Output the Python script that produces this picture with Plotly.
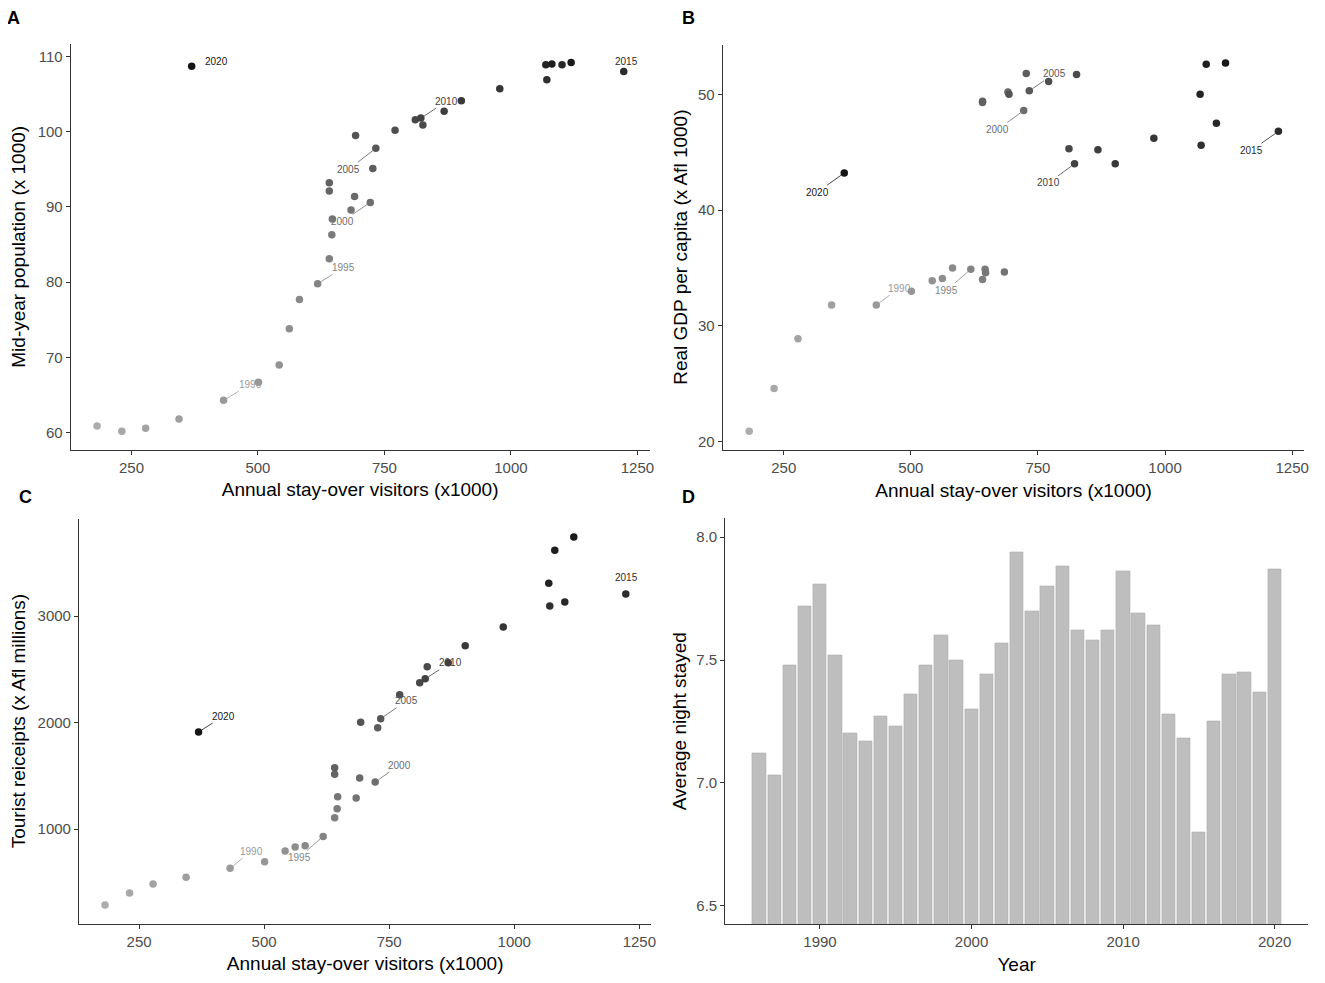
import plotly.graph_objects as go

# ---------------- data ----------------
years = list(range(1986, 2021))
visitors = [182, 231, 278, 344, 432, 501, 542, 562, 582, 618,
            641, 646, 647, 684, 722, 691, 641, 641, 727, 733,
            693, 771, 826, 811, 822, 868, 902, 978, 1071, 1223,
            1101, 1069, 1081, 1119, 369]
population = [60.9, 60.2, 60.6, 61.8, 64.3, 66.7, 69.0, 73.8, 77.7, 79.8,
              83.1, 86.3, 88.4, 89.6, 90.6, 91.4, 92.1, 93.2, 95.1, 97.8,
              99.5, 100.2, 100.9, 101.6, 101.8, 102.7, 104.1, 105.7, 106.9, 108.0,
              108.9, 108.9, 109.0, 109.2, 108.7]
gdp = [20.9, 24.6, 28.9, 31.8, 31.8, 33.0, 33.9, 34.1, 35.0, 34.9,
       34.0, 34.9, 34.6, 34.65, 48.6, 50.2, 49.3, 49.4, 51.8, 50.3,
       50.0, 51.1, 51.7, 45.3, 44.0, 45.2, 44.0, 46.2, 45.6, 46.8,
       47.5, 50.0, 52.6, 52.7, 43.2]
receipts = [286, 399, 484, 547, 631, 693, 793, 831, 843, 931,
            1106, 1191, 1303, 1291, 1441, 1479, 1514, 1576, 1951, 2036,
            2002, 2261, 2524, 2374, 2411, 2561, 2721, 2897, 3094, 3207,
            3131, 3307, 3617, 3742, 1911]
nights = [7.12, 7.03, 7.48, 7.72, 7.81, 7.52, 7.20, 7.17, 7.27, 7.23,
          7.36, 7.48, 7.60, 7.50, 7.30, 7.44, 7.57, 7.94, 7.70, 7.80,
          7.88, 7.62, 7.58, 7.62, 7.86, 7.69, 7.64, 7.28, 7.18, 6.80,
          7.25, 7.44, 7.45, 7.37, 7.87]
label_years = [1990, 1995, 2000, 2005, 2010, 2015, 2020]

x_ticks = [250, 500, 750, 1000, 1250]
pop_ticks = [60, 70, 80, 90, 100, 110]
gdp_ticks = [20, 30, 40, 50]
rec_ticks = [1000, 2000, 3000]
night_ticks = [6.5, 7.0, 7.5, 8.0]
year_ticks = [1990, 2000, 2010, 2020]

# ---------------- styling ----------------
OFF = 8  # page body margin
W, H = 1325 - 2 * OFF, 983 - 2 * OFF
FONT = "Liberation Sans, Arial, sans-serif"


def grey(yr):
    t = (yr - 1986) / 34.0
    v = int(round(172 - t * (172 - 22)))
    return f"rgb({v},{v},{v})"


point_colors = [grey(y) for y in years]


def px_dom(a, b):
    return [(a - OFF) / W, (b - OFF) / W]


def py_dom(top, bottom):
    return [1 - (bottom - OFF) / H, 1 - (top - OFF) / H]


fig = go.Figure()

axis_common = dict(showgrid=False, zeroline=False, showline=True, linecolor="#333333",
                   linewidth=1.1, ticks="outside", ticklen=4, tickcolor="#333333",
                   tickwidth=1, tickfont=dict(size=15, color="#4d4d4d", family=FONT),
                   title_font=dict(size=19, color="#000000", family=FONT))

panels = [
    ("x", "y", population),
    ("x2", "y2", gdp),
    ("x3", "y3", receipts),
]
for xa, ya, vals in panels:
    fig.add_trace(go.Scatter(x=visitors, y=vals, mode="markers", xaxis=xa, yaxis=ya,
                             marker=dict(size=7.5, color=point_colors), showlegend=False,
                             hoverinfo="skip"))

fig.add_trace(go.Bar(x=years, y=nights, xaxis="x4", yaxis="y4", width=0.88,
                     marker=dict(color="#bebebe", line=dict(color="#adadad", width=0.6)),
                     showlegend=False))

# ---------------- label offsets (pixels) ----------------
offsets = {
    "A": {1990: (27, -16, True), 1995: (26, -16, True), 2000: (-28, 19, True),
          2005: (-27, 21, True), 2010: (26, -17, True), 2015: (3, 10, False),
          2020: (25, 5, False)},
    "B": {1990: (23, -17, True), 1995: (-24, 21, True), 2000: (-26, 19, True),
          2005: (25, -17, True), 2010: (-26, 19, True), 2015: (-27, 19, True),
          2020: (-27, 19, True)},
    "C": {1990: (21, -17, True), 1995: (-24, 21, True), 2000: (24, -17, True),
          2005: (26, -18, True), 2010: (25, -16, True), 2015: (1, 17, False),
          2020: (25, -16, True)},
}

annotations = []
for key, (xa, ya, vals) in zip(["A", "B", "C"], panels):
    for yr in label_years:
        i = years.index(yr)
        c = grey(yr)
        dx, dy, line = offsets[key][yr]
        if line:
            annotations.append(dict(x=visitors[i], y=vals[i], xref=xa, yref=ya,
                                    text=str(yr), showarrow=True, arrowhead=0,
                                    ax=dx, ay=dy, arrowwidth=0.8, arrowcolor=c,
                                    standoff=4, font=dict(size=10, color=c, family=FONT)))
        else:
            annotations.append(dict(x=visitors[i], y=vals[i], xref=xa, yref=ya,
                                    text=str(yr), showarrow=False, xshift=dx, yshift=dy,
                                    font=dict(size=10, color=c, family=FONT)))

for letter, px, py in [("A", 14, 18), ("B", 691, 18), ("C", 26, 497), ("D", 691, 497)]:
    annotations.append(dict(x=(px - OFF) / W, y=1 - (py - OFF) / H, xref="paper", yref="paper",
                            xanchor="center", yanchor="middle",
                            text=f"<b>{letter}</b>", showarrow=False,
                            font=dict(size=18, color="#000000", family=FONT)))

x_range = [130, 1274]
xt = "Annual stay-over visitors (x1000)"

fig.update_layout(
    width=W, height=H, margin=dict(l=0, r=0, t=0, b=0),
    paper_bgcolor="white", plot_bgcolor="white", bargap=0,
    annotations=annotations,
    xaxis=dict(axis_common, domain=px_dom(71, 652), range=x_range, tickvals=x_ticks,
               anchor="y", title=dict(text=xt, standoff=8)),
    yaxis=dict(axis_common, domain=py_dom(44, 449.6), range=[57.75, 111.65], tickvals=pop_ticks,
               anchor="x", title=dict(text="Mid-year population (x 1000)", standoff=7)),
    xaxis2=dict(axis_common, domain=px_dom(725.5, 1309.3), range=x_range, tickvals=x_ticks,
                anchor="y2", title=dict(text=xt, standoff=8)),
    yaxis2=dict(axis_common, domain=py_dom(44.6, 449.7), range=[19.31, 54.29], tickvals=gdp_ticks,
                anchor="x2", title=dict(text="Real GDP per capita (x Afl 1000)", standoff=5)),
    xaxis3=dict(axis_common, domain=px_dom(79.3, 653.8), range=x_range, tickvals=x_ticks,
                anchor="y3", title=dict(text=xt, standoff=8)),
    yaxis3=dict(axis_common, domain=py_dom(518.6, 923.5), range=[113, 3915], tickvals=rec_ticks,
                anchor="x3", title=dict(text="Tourist reiceipts (x Afl millions)", standoff=8)),
    xaxis4=dict(axis_common, domain=px_dom(728, 1313), range=[1983.75, 2022.2], tickvals=year_ticks,
                anchor="y4", title=dict(text="Year", standoff=8)),
    yaxis4=dict(axis_common, domain=py_dom(518.3, 924), range=[6.425, 8.077], tickvals=night_ticks,
                tickformat=".1f", anchor="x4", title=dict(text="Average night stayed", standoff=4)),
)

fig.write_html("out.html")
